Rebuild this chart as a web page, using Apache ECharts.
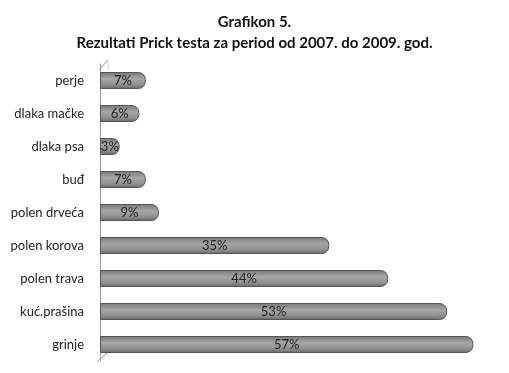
<!DOCTYPE html>
<html><head><meta charset="utf-8">
<script src="https://cdn.jsdelivr.net/npm/echarts@6/dist/echarts.min.js"></script>
<style>html,body{margin:0;padding:0;background:#fff}#c{width:509px;height:373px}</style>
</head><body><div id="c"></div>
<script>
const categories = ['grinje','kuć.prašina','polen trava','polen korova','polen drveća','buđ','dlaka psa','dlaka mačke','perje'];
const values = [57,53,44,35,9,7,3,6,7];
const titleLines = ['Grafikon 5.','Rezultati Prick testa za period od 2007. do 2009. god.'];

const chart = echarts.init(document.getElementById('c'));
chart.setOption({
  animation:false,
  title:{text:titleLines.join('\n'),left:'center',top:7,
    textStyle:{fontFamily:'Lato',fontWeight:'bold',fontSize:15,color:'#111',lineHeight:21}},
  grid:{left:100,right:16,top:64,bottom:12},
  xAxis:{type:'value',min:0,max:60,show:false},
  yAxis:{type:'category',data:categories,
    axisLine:{show:true,lineStyle:{color:'#999',width:1}},
    axisTick:{show:false},
    axisLabel:{fontFamily:'Lato',fontSize:13,color:'#222',margin:16}},
  series:[{type:'bar',data:values,barWidth:17,
    itemStyle:{borderRadius:[0,7,7,0],borderColor:'#555',borderWidth:1,
      color:new echarts.graphic.LinearGradient(0,0,0,1,[
        {offset:0,color:'#777'},{offset:0.4,color:'#a6a6a6'},{offset:0.75,color:'#909090'},{offset:1,color:'#666'}])},
    label:{show:true,position:'inside',formatter:'{c}%',fontFamily:'Lato',fontSize:13,color:'#222'}
  }],
  graphic:[
    {type:'line',shape:{x1:99,y1:70,x2:108,y2:60},style:{stroke:'#999',lineWidth:1}},
    {type:'line',shape:{x1:108,y1:60,x2:108,y2:70},style:{stroke:'#ccc',lineWidth:1}},
    {type:'line',shape:{x1:97,y1:362,x2:108,y2:352},style:{stroke:'#999',lineWidth:1}}
  ]
});
</script></body></html>
